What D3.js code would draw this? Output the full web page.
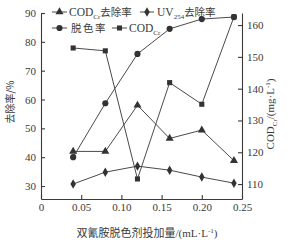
<!DOCTYPE html>
<html><head><meta charset="utf-8">
<script src="https://cdn.jsdelivr.net/npm/d3@7"></script>
<style>
html,body{margin:0;padding:0;background:#fff;}
svg{display:block;}
text{fill:#3a3a3a;}
</style></head>
<body>
<svg id="c" width="291" height="240"></svg>
<script>
const doses = [0.04, 0.08, 0.12, 0.16, 0.20, 0.24];
const codRemoval = [42, 42, 58, 46.5, 49.4, 38.8];
const uvRemoval = [30.7, 34.8, 36.9, 35.5, 33.1, 31.0];
const decolor = [40.0, 58.7, 75.8, 84.5, 87.9, 88.6];
const codCr = [152.8, 151.9, 111.6, 141.9, 135.1, 162.6];
const xTicks = [0, 0.05, 0.10, 0.15, 0.20, 0.25];
const leftTicks = [30, 40, 50, 60, 70, 80, 90];
const rightTicks = [110, 120, 130, 140, 150, 160];

const svg = d3.select("#c");
const serif = "'Liberation Serif','DejaVu Serif',serif";
const cjk = "'Noto Sans CJK SC',sans-serif";
const ink = "#3a3a3a";

const x = d3.scaleLinear().domain([0, 0.25]).range([41, 242]);
const yL = d3.scaleLinear().domain([25.5, 90]).range([199, 13]);
const yR = d3.scaleLinear().domain([105.3, 163.8]).range([199, 13]);

function styleAxis(g){
  g.selectAll("path,line").attr("stroke", ink).attr("stroke-width", 1.1);
  g.selectAll("text").attr("font-family", serif).attr("font-size", 11).attr("fill", ink);
}

svg.append("g").attr("transform", "translate(0,199)")
  .call(d3.axisBottom(x).tickValues(xTicks).tickSize(-4).tickSizeOuter(0).tickPadding(4)
    .tickFormat(d => d === 0 ? "0" : d3.format(".2f")(d)))
  .call(styleAxis);
svg.append("g").attr("transform", "translate(41,0)")
  .call(d3.axisLeft(yL).tickValues(leftTicks).tickSize(-4).tickSizeOuter(0).tickPadding(5))
  .call(styleAxis);
svg.append("g").attr("transform", "translate(242,0)")
  .call(d3.axisRight(yR).tickValues(rightTicks).tickSize(-4).tickSizeOuter(0).tickPadding(5))
  .call(styleAxis);

const series = [
  {vals: codRemoval, y: yL, sym: d3.symbolTriangle, size: 28},
  {vals: uvRemoval, y: yL, sym: d3.symbolDiamond, size: 26},
  {vals: decolor, y: yL, sym: d3.symbolCircle, size: 30},
  {vals: codCr, y: yR, sym: d3.symbolSquare, size: 26}
];
series.forEach(s => {
  const pts = doses.map((d, i) => [x(d), s.y(s.vals[i])]);
  svg.append("path").attr("d", d3.line()(pts)).attr("fill", "none")
    .attr("stroke", "#4a4a4a").attr("stroke-width", 1);
  svg.append("g").selectAll("path").data(pts).join("path")
    .attr("transform", p => `translate(${p[0]},${p[1]})`)
    .attr("d", d3.symbol(s.sym, s.size)()).attr("fill", "#333");
});

// legend
function legendItem(x0, x1, yy, sym, size){
  svg.append("line").attr("x1", x0).attr("x2", x1).attr("y1", yy).attr("y2", yy)
    .attr("stroke", "#4a4a4a").attr("stroke-width", 1);
  svg.append("path").attr("transform", `translate(${(x0 + x1) / 2},${yy})`)
    .attr("d", d3.symbol(sym, size)()).attr("fill", "#333");
}
legendItem(52, 67, 12, d3.symbolTriangle, 28);
legendItem(140, 154, 12, d3.symbolDiamond, 26);
legendItem(52, 67, 28, d3.symbolCircle, 30);
legendItem(112, 127, 28, d3.symbolSquare, 26);

let t = svg.append("text").attr("x", 69).attr("y", 15.5).attr("font-family", serif).attr("font-size", 11.5);
t.append("tspan").text("COD");
t.append("tspan").attr("font-size", 7).attr("dy", 3).text("Cr");
t.append("tspan").attr("dy", -3).attr("font-family", cjk).attr("font-size", 10.5).text("去除率");

t = svg.append("text").attr("x", 157).attr("y", 15.5).attr("font-family", serif).attr("font-size", 11.5);
t.append("tspan").text("UV");
t.append("tspan").attr("font-size", 7).attr("dy", 3).text("254");
t.append("tspan").attr("dy", -3).attr("font-family", cjk).attr("font-size", 10.5).text("去除率");

svg.append("text").attr("x", 71).attr("y", 32).attr("font-family", cjk).attr("font-size", 10.5)
  .attr("letter-spacing", 1.5).text("脱色率");
t = svg.append("text").attr("x", 129).attr("y", 32).attr("font-family", serif).attr("font-size", 11.5);
t.append("tspan").text("COD");
t.append("tspan").attr("font-size", 7).attr("dy", 3).text("Cr");

// axis titles
svg.append("text").attr("transform", "translate(14,102) rotate(-90)")
  .attr("text-anchor", "middle").attr("font-family", cjk).attr("font-size", 10)
  .text("去除率/%");

t = svg.append("text").attr("transform", "translate(274,114) rotate(-90)")
  .attr("text-anchor", "middle").attr("font-family", serif).attr("font-size", 11);
t.append("tspan").text("COD");
t.append("tspan").attr("font-size", 7).attr("dy", 3).text("Cr");
t.append("tspan").attr("dy", -3).text("/(mg·L");
t.append("tspan").attr("font-size", 7).attr("dy", -4).text("-1");
t.append("tspan").attr("dy", 4).text(")");

t = svg.append("text").attr("x", 147).attr("y", 237).attr("text-anchor", "middle")
  .attr("font-family", cjk).attr("font-size", 11);
t.append("tspan").text("双氰胺脱色剂投加量");
t.append("tspan").attr("font-family", serif).text("/(mL·L");
t.append("tspan").attr("font-family", serif).attr("font-size", 7).attr("dy", -4).text("-1");
t.append("tspan").attr("font-family", serif).attr("dy", 4).text(")");
</script>
</body></html>
